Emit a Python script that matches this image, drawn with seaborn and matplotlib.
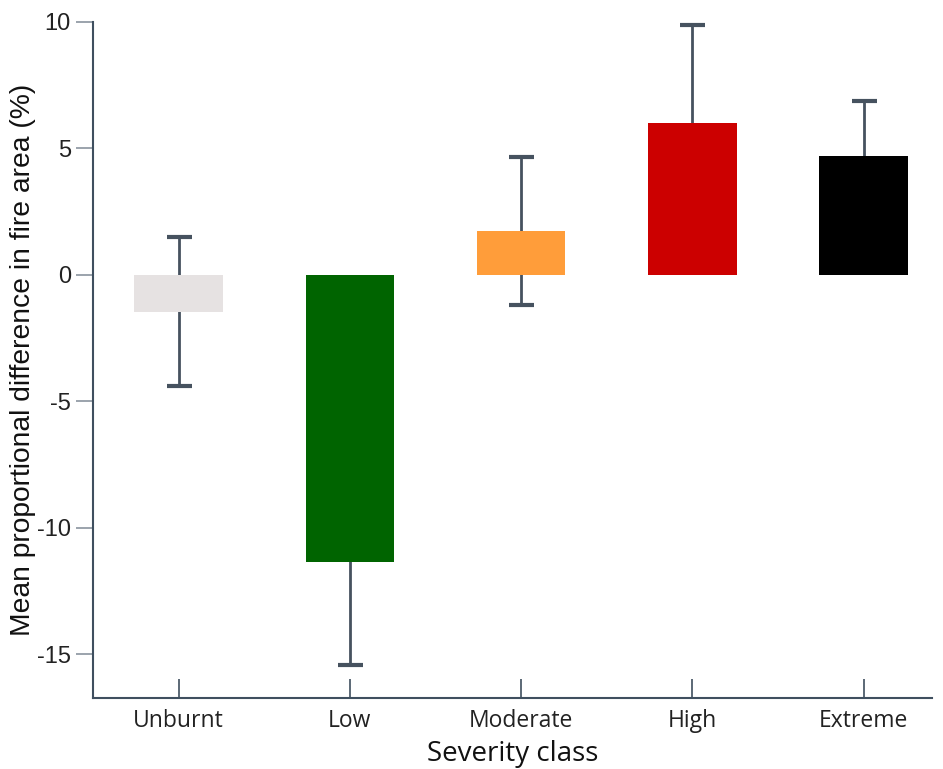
import matplotlib
matplotlib.use("Agg")
import matplotlib.pyplot as plt
import pandas as pd
import seaborn as sns

# values
classes = ["Unburnt", "Low", "Moderate", "High", "Extreme"]
means = [-1.45, -11.33, 1.74, 6.0, 4.72]
errors = [2.95, 4.1, 2.93, 3.9, 2.15]
colours = ["#e6e2e2", "#006400", "#ff9d3a", "#cc0000", "#000000"]

df = pd.DataFrame({"Severity class": classes, "Mean": means, "err": errors})

sns.set_style("white")
plt.rcParams["axes.unicode_minus"] = False

fig = plt.figure(figsize=(9.43, 7.69), dpi=100)
ax = fig.add_axes([93 / 943, 1 - 697.7 / 769, (932 - 93) / 943, (697.7 - 22) / 769])

spine_col = "#3f4f5f"

# error bars first so the bars sit on top of them
ax.errorbar(range(len(classes)), df["Mean"], yerr=df["err"], fmt="none",
            ecolor="#46525f", elinewidth=2, capsize=9, capthick=3, zorder=1)

sns.barplot(data=df, x="Severity class", y="Mean", hue="Severity class",
            palette=colours, width=0.517, errorbar=None, legend=False,
            saturation=1, ax=ax, zorder=2)
for p in ax.patches:
    p.set_zorder(2)
    p.set_edgecolor("none")

ax.set_xlim(-0.5, 4.4)
ax.set_ylim(-16.71, 10)
ax.set_yticks([-15, -10, -5, 0, 5, 10])

sns.despine(ax=ax)
for s in ["left", "bottom"]:
    ax.spines[s].set_color(spine_col)
    ax.spines[s].set_linewidth(1.5)

ax.tick_params(axis="y", left=True, direction="out", length=12, width=1.2,
               color="#8a949e", labelsize=17, labelcolor="#222222", pad=4)
ax.tick_params(axis="x", bottom=True, direction="in", length=14, width=1.2,
               color=spine_col, labelsize=16.5, labelcolor="#222222", pad=8)
for t in ax.get_yticklabels():
    t.set_fontfamily("Liberation Sans")
for t in ax.get_xticklabels():
    t.set_fontfamily("Open Sans")

ax.set_ylabel("Mean proportional difference in fire area (%)", fontsize=20.3,
              family="Liberation Sans", color="#111111")
ax.yaxis.set_label_coords(-0.068, 0.5)
ax.set_xlabel("Severity class", fontsize=20, family="Open Sans",
              color="#111111", labelpad=5)

fig.savefig("out.png", dpi=100)
